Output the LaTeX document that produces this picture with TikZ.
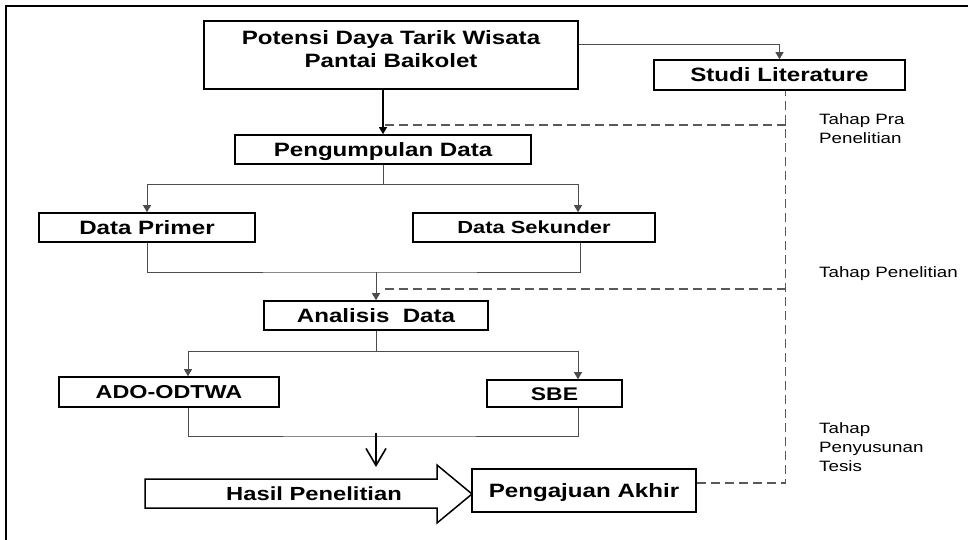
\documentclass[tikz,border=0pt]{standalone}
\usepackage{fontspec}
\setmainfont{Liberation Sans}[FakeStretch=1.25]
\usetikzlibrary{arrows.meta}
\begin{document}
\begin{tikzpicture}[x=1pt,y=-1pt,
  box/.style={draw=black,line width=1.6pt,inner sep=0pt,
    font=\bfseries\fontsize{19.3}{23}\selectfont,text height=13.9pt,text depth=0pt},
  conn/.style={draw=black!70,line width=0.9pt},
  tip/.style={-{Triangle[length=7pt,width=8pt]}},
  dashline/.style={draw=black!65,line width=1.3pt,dash pattern=on 9pt off 5pt},
  lbl/.style={font=\fontsize{15}{19}\selectfont,align=left,anchor=north west,inner sep=0pt}
]
\useasboundingbox (0,0) rectangle (968,540);
\draw[line width=2pt] (6,540) -- (6,6) -- (968,6);

% boxes
\node[box,minimum width=374pt,minimum height=68pt,text height=14pt,text depth=34pt]
  (potensi) at (391,55) {\begin{tabular}[t]{@{}c@{}}Potensi Daya Tarik Wisata\\Pantai Baikolet\end{tabular}};
\node[box,minimum width=251pt,minimum height=30pt] (studi) at (779.5,75) {Studi Literature};
\node[box,minimum width=296pt,minimum height=29pt] (kumpul) at (383,149.5) {Pengumpulan Data};
\node[box,minimum width=216pt,minimum height=29pt] (primer) at (147,227.5) {Data Primer};
\node[box,minimum width=242pt,minimum height=29pt,font=\bfseries\fontsize{17.5}{21}\selectfont,text height=12.6pt]
  (sekunder) at (534,227.5) {Data Sekunder};
\node[box,minimum width=224pt,minimum height=29pt] (analisis) at (376,315.5) {Analisis\ \ Data};
\node[box,minimum width=220pt,minimum height=30pt,font=\bfseries\fontsize{18.7}{22}\selectfont,text height=13.5pt]
  (ado) at (169,392) {ADO-ODTWA};
\node[box,minimum width=135pt,minimum height=27pt,font=\bfseries\fontsize{18.3}{22}\selectfont,text height=13.2pt]
  (sbe) at (554.5,393.5) {SBE};
\node[box,minimum width=224pt,minimum height=43pt] (akhir) at (584,490.5) {Pengajuan Akhir};

% Hasil Penelitian block arrow
\draw[line width=1.5pt] (145,479) -- (437,479) -- (437,465) -- (472,494) -- (437,523)
  -- (437,508) -- (145,508) -- cycle;
\node[font=\bfseries\fontsize{19}{23}\selectfont,text height=13.7pt,text depth=0pt,inner sep=0pt]
  (hasil) at (314,494) {Hasil Penelitian};

% connectors
\draw[line width=1.2pt,tip] (potensi.south -| kumpul.north) -- (kumpul.north);
\draw[conn,tip] ([yshift=11pt]potensi.east) -| (studi.north);

\coordinate (k1) at (383,184);
\draw[conn] (kumpul.south) -- (k1);
\draw[conn,tip] (k1) -| (primer.north);
\draw[conn,tip] (k1) -| ([xshift=44pt]sekunder.north);

\coordinate (j2) at (376,272);
\draw[conn] (primer.south) |- (j2) -| ([xshift=46pt]sekunder.south);
\draw[conn,tip] (j2) -- (analisis.north);

\coordinate (a1) at (376,351);
\draw[conn] (analisis.south) -- (a1);
\draw[conn,tip] (a1) -| ([xshift=19pt]ado.north);
\draw[conn,tip] (a1) -| ([xshift=23.5pt]sbe.north);

\coordinate (j4) at (376,436);
\draw[conn] ([xshift=19pt]ado.south) |- (j4) -| ([xshift=23.5pt]sbe.south);
\coordinate (openS) at (376,433);
\coordinate (openE) at (376,467);
\draw[line width=1.6pt,-{Straight Barb[length=17pt,width=20pt]}] (openS) -- (openE);

% dashed stage lines
\coordinate (dtop) at ([xshift=6pt]studi.south);
\draw[dashline] ([yshift=7.5pt]akhir.east) -| (dtop);
\coordinate (p1) at (385,125);
\coordinate (p2) at (385,289);
\draw[dashline] (dtop |- p1) -- (p1);
\draw[dashline] (dtop |- p2) -- (p2);

% stage labels
\node[lbl] (pra) at (819,113) {Tahap Pra\\Penelitian};
\node[lbl] (pen) at (819,266) {Tahap Penelitian};
\node[lbl] (sus) at (819,422) {Tahap\\Penyusunan\\Tesis};
\end{tikzpicture}
\end{document}
